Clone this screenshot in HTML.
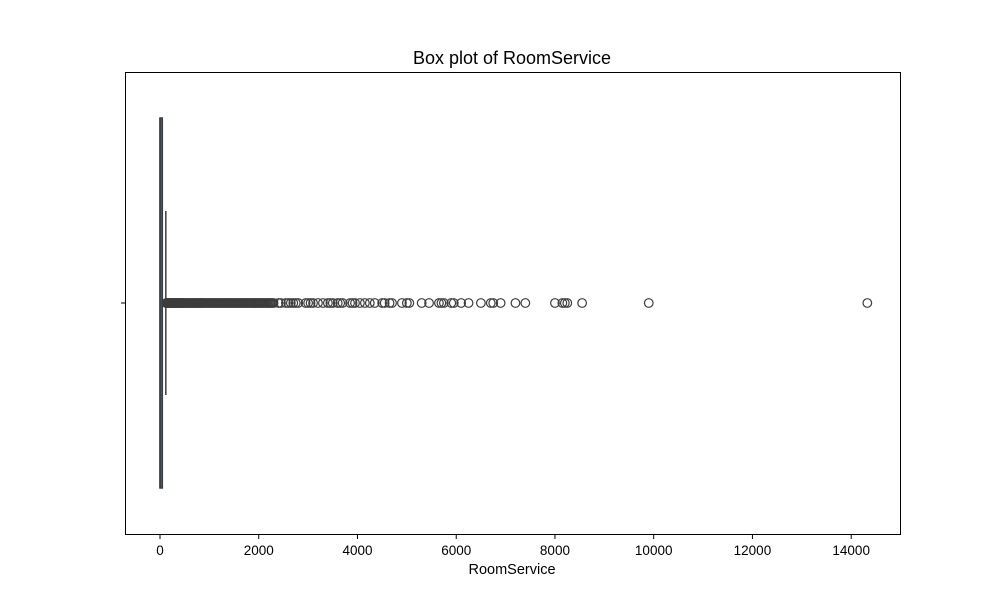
<!DOCTYPE html>
<html><head><meta charset="utf-8"><style>
body{margin:0;background:#fff;font-family:"Liberation Sans",sans-serif}
svg text{font-family:"Liberation Sans",sans-serif;fill:#000}
</style></head><body>
<svg id="chart" width="1000" height="600">
<text x="512" y="64" font-size="18" text-anchor="middle">Box plot of RoomService</text>
<g id="plot"></g>
<rect x="125.5" y="72.5" width="775" height="462" fill="none" stroke="#000" stroke-width="1"/>
<text x="512" y="574" font-size="14.5" text-anchor="middle">RoomService</text>
</svg>
<script>
const tickValues=[0,2000,4000,6000,8000,10000,12000,14000];
const stats={q1:0,median:0,q3:47,whiskerLow:0,whiskerHigh:118};
const outliers=[125,140,160,180,200,220,250,280,310,340,370,400,430,460,500,540,580,620,660,700,740,780,820,860,900,950,1000,1050,1100,1150,1200,1250,1300,1350,1400,1450,1500,1550,1600,1650,1700,1750,1800,1850,1900,1950,2000,2050,2100,2150,2200,2250,2300,2400,2450,2550,2600,2650,2700,2750,2800,2950,3000,3050,3100,3200,3300,3400,3450,3500,3600,3650,3700,3850,3900,3950,4050,4150,4250,4350,4500,4550,4650,4700,4900,5000,5050,5300,5450,5650,5700,5750,5900,5950,6100,6250,6500,6700,6750,6900,7200,7400,8000,8150,8200,8250,8550,9900,14327];
const denseOutliers=[130,150,170,190,210,235,265,295,325,355,385,415,445,480,520,560,600,640,680,720,760,800,840,880,925,975,1025,1075,1125,1175,1225,1275,1325,1375,1425,1475,1525,1575,1625,1675,1725,1775,1825,1875,1925,1975,2025,2075,2125,2175,2225,2275];
const xs=v=>160+v*0.04937;
const ns="http://www.w3.org/2000/svg";
const svgEl=document.getElementById('chart');
const g=document.getElementById('plot');
function mk(t,a){const e=document.createElementNS(ns,t);for(const k in a)e.setAttribute(k,a[k]);return e;}
const yc=303,boxTop=118,boxBot=488;
let w=mk('line',{x1:xs(stats.q3),x2:xs(stats.whiskerHigh),y1:yc,y2:yc,stroke:'#3d3d3d','stroke-width':1.5});


g.appendChild(w);
let cap=mk('line',{x1:xs(stats.whiskerHigh),x2:xs(stats.whiskerHigh),y1:211,y2:395,stroke:'#3d3d3d','stroke-width':1.5});


g.appendChild(cap);
let box=mk('rect',{x:xs(stats.q1),y:boxTop,width:Math.max(1,xs(stats.q3)-xs(stats.q1)),height:boxBot-boxTop,fill:'#2a6fa8',stroke:'#3d3d3d','stroke-width':1.5});


g.appendChild(box);
let med=mk('line',{x1:xs(stats.median),x2:xs(stats.median),y1:boxTop,y2:boxBot,stroke:'#3d3d3d','stroke-width':1.5});


g.appendChild(med);
outliers.concat(denseOutliers).forEach(v=>{
 const c=mk('circle',{cx:xs(v),cy:yc,r:4.3,fill:'none',stroke:'#3d3d3d','stroke-width':1.2});
 
 
 g.appendChild(c);
});
tickValues.forEach(v=>{
 const l=mk('line',{x1:xs(v),x2:xs(v),y1:534.5,y2:539,stroke:'#000'});
 
 
 svgEl.appendChild(l);
 const t=mk('text',{x:xs(v),y:555,'font-size':13.5,'text-anchor':'middle'});
 t.textContent=v;
 
 
 svgEl.appendChild(t);
});
const yt=mk('line',{x1:121,x2:125.5,y1:yc,y2:yc,stroke:'#000'});


svgEl.appendChild(yt);
</script>
</body></html>
